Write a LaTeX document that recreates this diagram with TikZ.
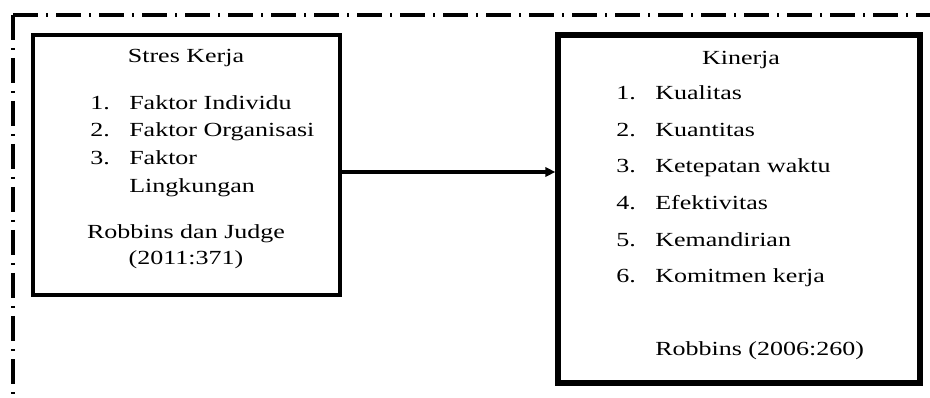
\documentclass[tikz,border=0pt]{standalone}
\usepackage{fontspec}
\setmainfont{Liberation Serif}[FakeStretch=1.3]
\usetikzlibrary{arrows.meta, positioning}

\begin{document}
\begin{tikzpicture}[
    x=0.75pt, y=-0.75pt,
    frame/.style={line width=2.4pt, dash pattern=on 18.75pt off 6pt on 1.5pt off 6pt},
    thinbox/.style={rectangle, draw=black, line width=3pt, inner sep=0pt},
    thickbox/.style={rectangle, draw=black, line width=4pt, inner sep=0pt},
    txt/.style={inner sep=0pt, font=\fontsize{15pt}{21pt}\selectfont},
    arrow/.style={-{Triangle[length=7.5pt, width=7pt]}, line width=2.6pt}
]
\useasboundingbox (0,0) rectangle (930,398);

% Outer frame
\coordinate (corner) at (13,15);
\draw[frame] (corner) -- (930,15);
\draw[frame] (corner) -- (13,398);

% Boxes
\node[thinbox, minimum width=230.25pt, minimum height=195pt] (stres) at (186.5,165) {};
\node[thickbox, minimum width=271.5pt, minimum height=261pt] (kinerja) at (739,209) {};

% Stres Kerja (left)
\node[txt, anchor=base] (stresTitle) at (186,63) {Stres Kerja};
\node[txt, anchor=base west] (s1n) at (90,110) {1.};
\node[txt, anchor=base west] (s1) at (129,110) {Faktor Individu};
\node[txt, anchor=base west] (s2n) at (90,137) {2.};
\node[txt, anchor=base west] (s2) at (129,137) {Faktor Organisasi};
\node[txt, anchor=base west] (s3n) at (90,165) {3.};
\node[txt, anchor=base west] (s3) at (129,165) {Faktor};
\node[txt, anchor=base west] (s3b) at (129,193) {Lingkungan};
\node[txt, anchor=base] (stresRef) at (186,239) {Robbins dan Judge};
\node[txt, anchor=base] (stresYear) at (186,265) {(2011:371)};

% Kinerja (right)
\node[txt, anchor=base] (kinTitle) at (741,65) {Kinerja};
\node[txt, anchor=base west] (k1n) at (616,100) {1.};
\node[txt, anchor=base west] (k1) at (655,100) {Kualitas};
\node[txt, anchor=base west] (k2n) at (616,137) {2.};
\node[txt, anchor=base west] (k2) at (655,137) {Kuantitas};
\node[txt, anchor=base west] (k3n) at (616,173) {3.};
\node[txt, anchor=base west] (k3) at (655,173) {Ketepatan waktu};
\node[txt, anchor=base west] (k4n) at (616,210) {4.};
\node[txt, anchor=base west] (k4) at (655,210) {Efektivitas};
\node[txt, anchor=base west] (k5n) at (616,247) {5.};
\node[txt, anchor=base west] (k5) at (655,247) {Kemandirian};
\node[txt, anchor=base west] (k6n) at (616,283) {6.};
\node[txt, anchor=base west] (k6) at (655,283) {Komitmen kerja};
\node[txt, anchor=base west] (kinRef) at (655,355) {Robbins (2006:260)};

% Arrow
\draw[arrow] ([yshift=-5.25pt]stres.east) -- ([yshift=-5.25pt]stres.east -| kinerja.west);

\end{tikzpicture}
\end{document}
